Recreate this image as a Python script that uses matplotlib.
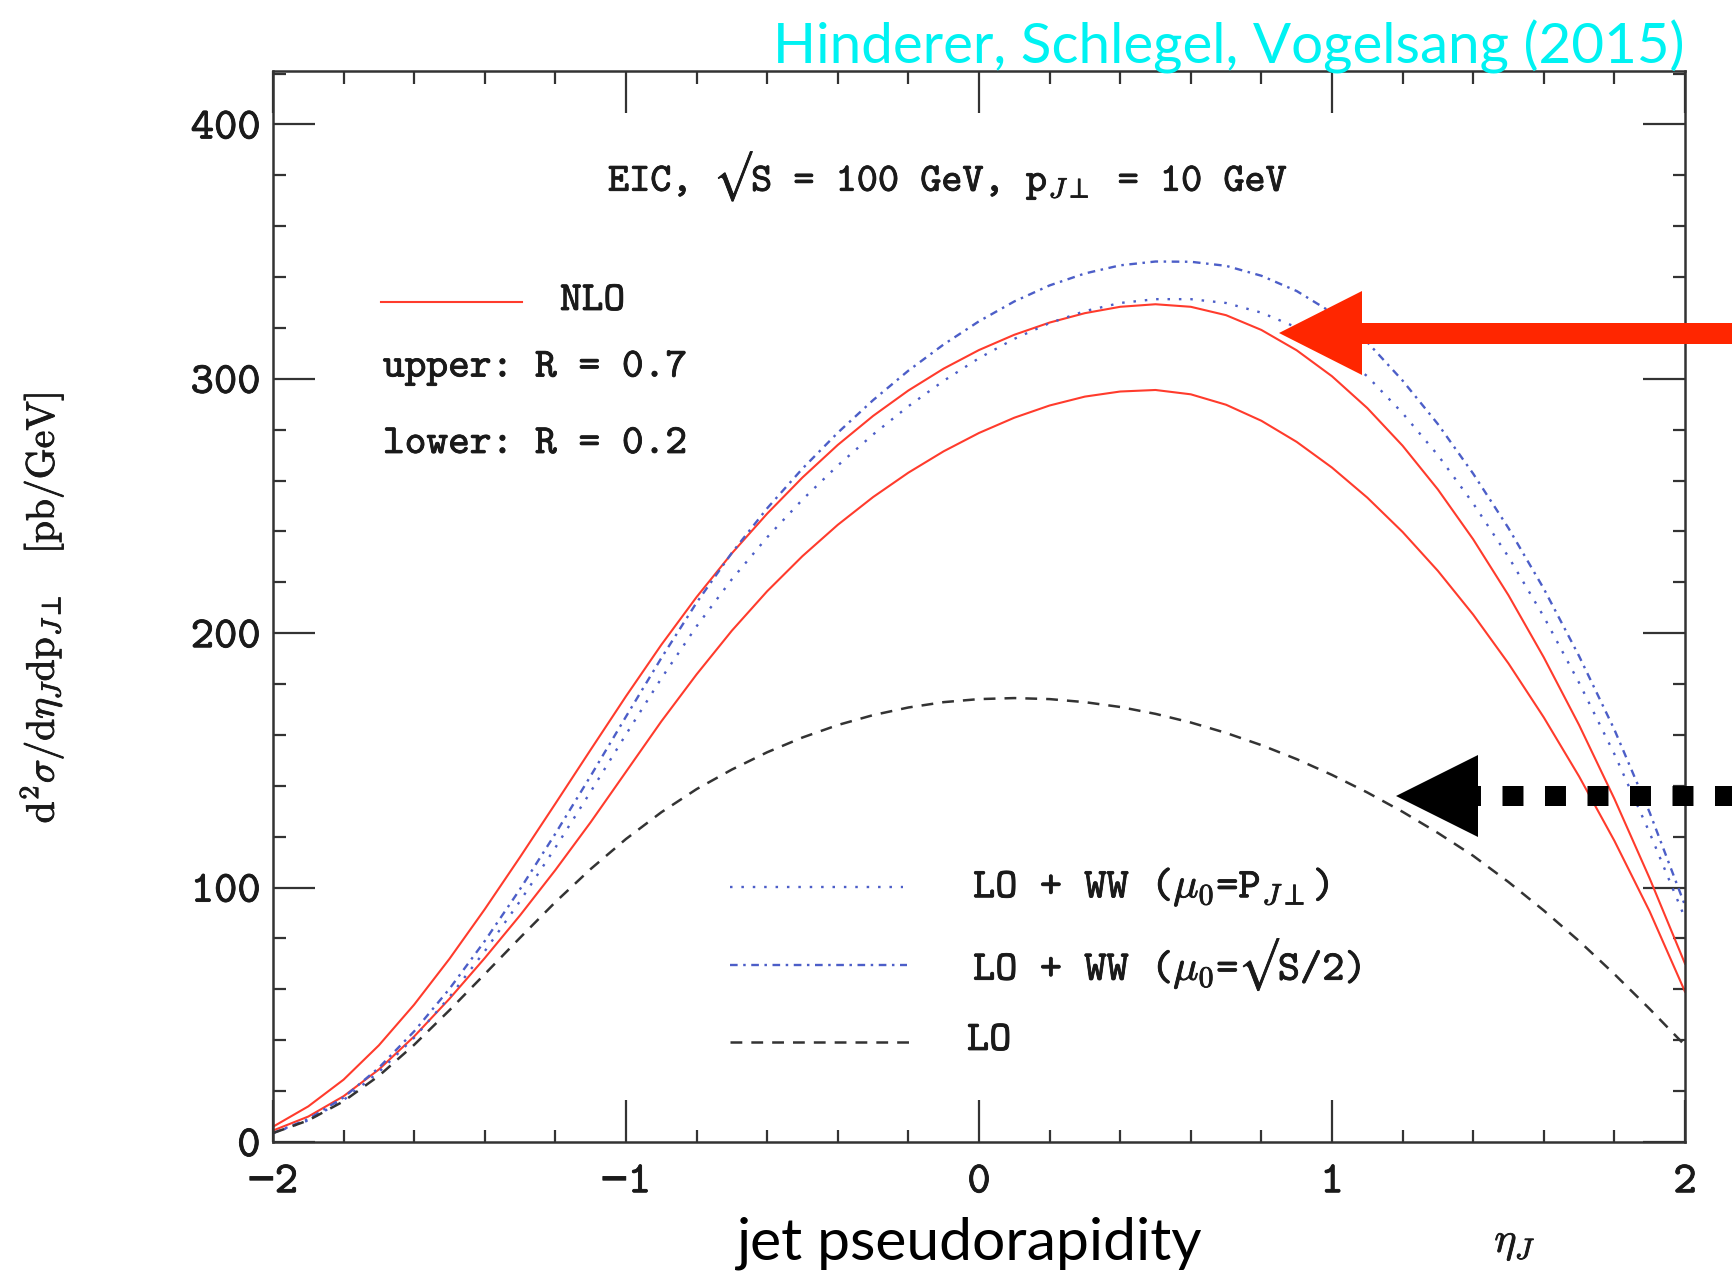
import matplotlib
matplotlib.use("Agg")
import matplotlib.pyplot as plt
import matplotlib.patheffects as pe
from matplotlib.lines import Line2D
from matplotlib.patches import Polygon
from matplotlib.ticker import MultipleLocator

plt.rcParams["mathtext.fontset"] = "cm"
plt.rcParams["lines.scale_dashes"] = False
plt.rcParams["axes.unicode_minus"] = True
TT = ["cmtt10", "DejaVu Sans Mono", "DejaVu Sans"]
plt.rcParams["font.family"] = TT

# ---- data: jet cross section vs. jet pseudorapidity ----
eta = [-2.0, -1.9, -1.8, -1.7, -1.6, -1.5, -1.4, -1.3, -1.2, -1.1,
       -1.0, -0.9, -0.8, -0.7, -0.6, -0.5, -0.4, -0.3, -0.2, -0.1,
       0.0, 0.1, 0.2, 0.3, 0.4, 0.5, 0.6, 0.7, 0.8, 0.9,
       1.0, 1.1, 1.2, 1.3, 1.4, 1.5, 1.6, 1.7, 1.8, 1.9, 2.0]

nlo_r07 = [6, 14, 24.5, 38, 54, 72, 91.5, 112, 133, 154.2,
           175.2, 195.4, 214.2, 231.4, 247, 261.2, 274, 285.4, 295.4, 304,
           311.3, 317.3, 322.1, 325.8, 328.3, 329.3, 328.3, 325, 319.2, 311.2,
           301, 288.5, 273.7, 256.5, 236.9, 214.9, 190.5, 163.9, 134.9, 103.6,
           70.1]

nlo_r02 = [4.5, 10.0, 18.0, 28.5, 41.5, 56.3, 72.3, 89.1, 106.9, 125.7,
           145.5, 165.3, 183.8, 201.0, 216.5, 230.3, 242.6, 253.5, 263.1, 271.5,
           278.7, 284.7, 289.5, 293.0, 295.0, 295.6, 293.9, 289.8, 283.5, 275.2,
           265.1, 253.3, 239.8, 224.5, 207.3, 188.1, 166.9, 143.7, 118.4, 90.6,
           59.1]

lo_ww_pt = [3.5, 8.5, 16.5, 27.5, 41, 57, 75, 94.7, 115.7, 137.7,
            160.2, 182.2, 202.7, 221.2, 237.7, 252.5, 265.9, 278.1, 289.2, 299.2,
            308.1, 315.7, 321.9, 326.6, 329.8, 331.3, 331.3, 329.8, 326, 320.2,
            312, 301, 286.5, 270, 251, 230, 206.5, 180.5, 152.5, 121.5,
            88]

lo_ww_s2 = [3.5, 9.0, 17.5, 29.2, 43.5, 60.2, 79.0, 99.4, 121.2, 143.9,
            167.2, 190.2, 212.0, 231.6, 249.1, 264.7, 278.8, 291.6, 303.2, 313.5,
            322.6, 330.4, 336.7, 341.4, 344.6, 346.1, 346.0, 344.4, 340.5, 334.5,
            326.0, 314.4, 299.3, 282.2, 262.7, 241.3, 217.5, 191.0, 162.1, 129.5,
            93.0]

lo = [3.5, 8.5, 16, 26, 38.2, 51.8, 66, 80.3, 94.3, 107.3,
      119.1, 129.6, 138.7, 146.4, 153.2, 159.0, 163.9, 167.8, 170.8, 172.9,
      174.1, 174.5, 174.1, 172.9, 171.0, 168.3, 164.9, 160.8, 156.0, 150.5,
      144.3, 137.4, 129.8, 121.5, 112.5, 102.2, 91.0, 79.0, 66.0, 52.3,
      38.0]

x_ticks = [-2, -1, 0, 1, 2]
x_tick_labels = ["\u22122", "\u22121", "0", "1", "2"]
y_ticks = [0, 100, 200, 300, 400]
y_tick_labels = ["0", "100", "200", "300", "400"]

RED = "#ff3b2c"
BLUE = "#4c5ec8"
DARK = "#333333"
INK = "#1a1a1a"
heavy = [pe.withStroke(linewidth=0.6, foreground=INK)]

fig = plt.figure(figsize=(17.33, 12.74), dpi=100)
ax = fig.add_axes([0.1575, 0.1036, 0.8148, 0.8407])

ax.plot(eta, nlo_r07, color=RED, lw=1.5)
ax.plot(eta, nlo_r02, color=RED, lw=1.5)
ax.plot(eta, lo_ww_pt, color=BLUE, lw=1.7, dashes=(1.8, 6.4))
ax.plot(eta, lo_ww_s2, color=BLUE, lw=1.7, dashes=(5.5, 4.0, 1.8, 4.0))
ax.plot(eta, lo, color=DARK, lw=1.8, dashes=(8.5, 6.5))

ax.set_xlim(-2, 2)
ax.set_ylim(0, 421)
ax.set_xticks(x_ticks)
ax.set_xticklabels(x_tick_labels)
ax.set_yticks(y_ticks)
ax.set_yticklabels(y_tick_labels)
ax.xaxis.set_minor_locator(MultipleLocator(0.2))
ax.yaxis.set_minor_locator(MultipleLocator(20))
ax.tick_params(which="both", direction="in", top=True, right=True,
               color=DARK, width=1.6, labelsize=32, labelcolor=INK)
ax.tick_params(which="major", length=30)
ax.tick_params(which="minor", length=9)
ax.tick_params(axis="x", which="major", pad=16)
ax.tick_params(axis="y", which="major", pad=9)
for lab in ax.get_xticklabels() + ax.get_yticklabels():
    lab.set_path_effects(heavy)
for s in ax.spines.values():
    s.set_color(DARK)
    s.set_linewidth(1.8)

ROOT = "$\u221a$"

# in-frame annotations
txt = dict(transform=ax.transAxes, color=INK, path_effects=heavy)
ax.text(0.478, 0.901, "EIC, " + ROOT + r"S = 100 GeV, p$_{J\perp}$ = 10 GeV",
        ha="center", va="center", fontsize=29, **txt)
ax.plot([0.0765, 0.1763], [0.7843, 0.7843], transform=ax.transAxes,
        color=RED, lw=1.5)
ax.text(0.2033, 0.7843, "NLO", ha="left", va="center", fontsize=29.8, **txt)
ax.text(0.0779, 0.7227, "upper: R = 0.7", ha="left", va="center",
        fontsize=29.8, **txt)
ax.text(0.0779, 0.6508, "lower: R = 0.2", ha="left", va="center",
        fontsize=29.8, **txt)

ax.plot([0.324, 0.446], [0.2381, 0.2381], transform=ax.transAxes,
        color=BLUE, lw=1.7, dashes=(1.8, 6.4))
ax.text(0.4958, 0.2381, r"LO + WW ($\mu_0$=P$_{J\perp}$)",
        ha="left", va="center", fontsize=30.5, **txt)
ax.plot([0.324, 0.449], [0.1653, 0.1653], transform=ax.transAxes,
        color=BLUE, lw=1.7, dashes=(5.5, 4.0, 1.8, 4.0))
ax.text(0.4958, 0.1653, r"LO + WW ($\mu_0$=" + ROOT + "S/2)",
        ha="left", va="center", fontsize=30.5, **txt)
ax.plot([0.324, 0.451], [0.0934, 0.0934], transform=ax.transAxes,
        color=DARK, lw=1.8, dashes=(8.5, 6.5))
ax.text(0.4915, 0.0934, "LO", ha="left", va="center", fontsize=30.5, **txt)

# axis titles
fig.text(42 / 1733, 1 - 608 / 1274,
         r"$\mathrm{d^2}\sigma/\mathrm{d}\eta_J\mathrm{dp}_{J\perp}\ \ \ [\mathrm{pb/GeV}]$",
         rotation=90, ha="center", va="center", fontsize=28.5, color=INK,
         path_effects=heavy)
fig.text(1515 / 1733, 1 - 1252 / 1274, r"$\eta_J$", ha="center",
         va="baseline", fontsize=30, color=INK, path_effects=heavy)
fig.text(969 / 1733, 1 - 1260 / 1274, "jet pseudorapidity", ha="center",
         va="baseline", family="Lato", fontsize=42.3)
fig.text(1685 / 1733, 1 - 64 / 1274, "Hinderer, Schlegel, Vogelsang (2015)",
         ha="right", va="baseline", family="Lato", fontsize=40.7,
         color="#00f2f2")


def fpt(x, y):
    return (x / 1733, 1 - y / 1274)


# red pointer to the NLO curves
red_arrow = [fpt(1279, 333), fpt(1362, 291), fpt(1362, 323), fpt(1740, 323),
             fpt(1740, 344), fpt(1362, 344), fpt(1362, 375)]
fig.add_artist(Polygon(red_arrow, closed=True, transform=fig.transFigure,
                       facecolor="#ff2600", edgecolor="none"))

# black pointer with a square-dotted shaft toward the LO curve
shaft = Line2D([1460 / 1733, 1745 / 1733], [1 - 796 / 1274, 1 - 796 / 1274],
               transform=fig.transFigure, color="black", lw=14.4,
               dashes=(15.1, 15.5), dash_capstyle="butt")
fig.add_artist(shaft)
fig.add_artist(Polygon([fpt(1396, 796), fpt(1478, 755), fpt(1478, 837)],
                       closed=True, transform=fig.transFigure,
                       facecolor="black", edgecolor="none"))

fig.savefig("out.png", dpi=100)
